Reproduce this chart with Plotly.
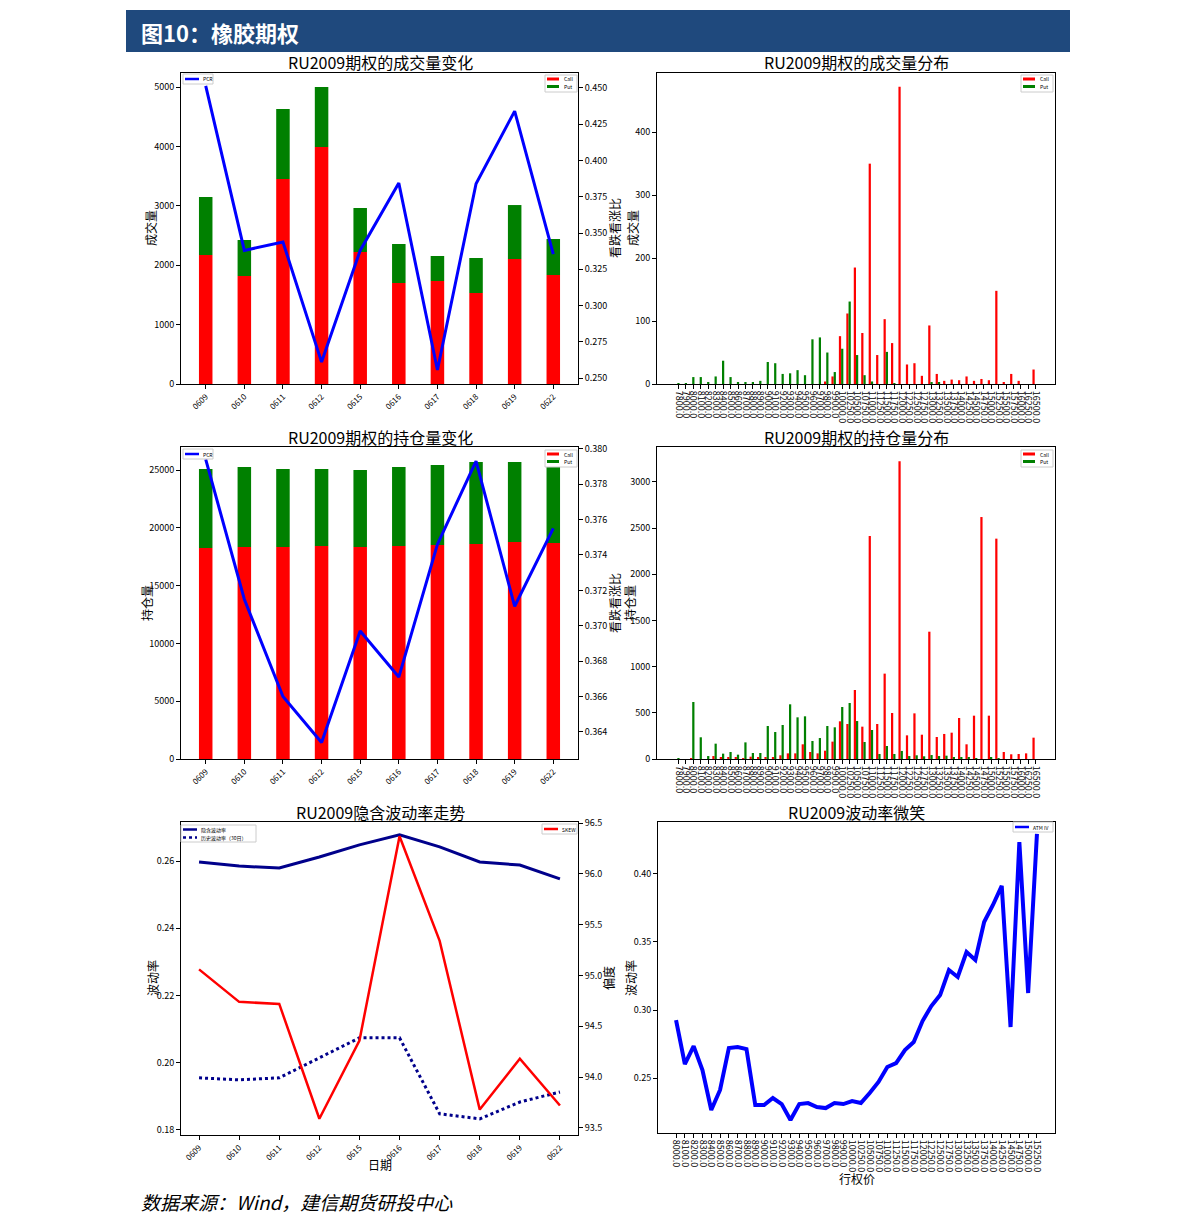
import plotly.graph_objects as go

W, H = 1191, 1232
FONT = "Noto Sans CJK SC, Noto Sans, sans-serif"

# ---------------- data ----------------
dates = ["0609", "0610", "0611", "0612", "0615", "0616", "0617", "0618", "0619", "0622"]

vol_call = [2172, 1818, 3451, 3990, 2222, 1700, 1734, 1532, 2104, 1835]
vol_put = [976, 606, 1179, 1010, 741, 657, 421, 589, 909, 606]
vol_pcr = [0.4514, 0.338, 0.3438, 0.261, 0.338, 0.3845, 0.2555, 0.384, 0.434, 0.3355]

oi_call = [18253, 18339, 18339, 18425, 18339, 18425, 18512, 18600, 18772, 18685]
oi_put = [6834, 6921, 6748, 6662, 6661, 6835, 6921, 7092, 6920, 6748]
oi_pcr = [0.3794, 0.3715, 0.366, 0.3634, 0.3697, 0.3671, 0.3746, 0.3793, 0.3711, 0.3755]

strikes = ([f"{s}.0" for s in range(7800, 10000, 100)] +
           [f"{s}.0" for s in range(10000, 16750, 250)])

dist_vol_call = [0, 0, 0, 0, 0, 0, 0, 0, 0, 0, 0, 0, 0, 0, 0, 0, 0, 0, 0, 0,
                 4, 12, 76, 112, 185, 81, 350, 46, 103, 65, 472, 31, 33, 13, 93, 16,
                 5, 7, 6, 12, 5, 8, 6, 148, 2, 16, 5, 0, 23]
dist_vol_put = [1, 1, 11, 11, 2, 12, 37, 11, 2, 2, 2, 5, 35, 33, 16, 17, 22, 14, 71, 74,
                50, 19, 56, 131, 46, 14, 4, 0, 51, 1, 0, 0, 0, 0, 2, 3,
                0, 0, 0, 0, 0, 0, 0, 0, 0, 0, 0, 0, 0]

dist_oi_call = [0, 0, 7, 0, 0, 32, 14, 14, 18, 7, 25, 14, 22, 18, 40, 61, 61, 159, 76, 61,
                90, 188, 408, 379, 747, 350, 2414, 379, 924, 498, 3222, 256, 494, 263, 1378, 238,
                271, 285, 444, 159, 469, 2619, 469, 2385, 76, 51, 54, 61, 231]
dist_oi_put = [10, 0, 617, 235, 32, 166, 58, 76, 47, 180, 65, 65, 357, 292, 368, 592, 451, 462, 195, 227,
               357, 343, 563, 606, 411, 184, 314, 54, 141, 54, 87, 32, 40, 29, 43, 32,
               36, 18, 18, 22, 7, 0, 11, 7, 0, 0, 0, 0, 0]

iv = [0.2597, 0.2585, 0.2579, 0.2612, 0.2648, 0.2678, 0.2642, 0.2597, 0.2588, 0.2547]
hv30 = [0.1955, 0.1949, 0.1955, 0.2014, 0.2074, 0.2074, 0.1848, 0.1833, 0.1883, 0.1913]
skew = [95.06, 94.74, 94.72, 93.59, 94.36, 96.37, 95.34, 93.68, 94.18, 93.72]

smile_strikes = ([f"{s}.0" for s in range(8000, 10000, 100)] +
                 [f"{s}.0" for s in range(10000, 15500, 250)])
smile_iv = [0.2926, 0.2603, 0.2735, 0.2559, 0.2265, 0.2412, 0.2721, 0.2728, 0.2713, 0.2301,
            0.2301, 0.2353, 0.2309, 0.2191, 0.2309, 0.2316, 0.2287, 0.2279, 0.2316, 0.2309,
            0.2331, 0.2316, 0.2390, 0.2471, 0.2581, 0.2610, 0.2706, 0.2765, 0.2919, 0.3029,
            0.3110, 0.3294, 0.3243, 0.3426, 0.3368, 0.3647, 0.3772, 0.3912, 0.2875, 0.4235,
            0.3125, 0.4294]

RED, GREEN, BLUE, NAVY = "#ff0000", "#008000", "#0000ff", "#00008b"

OX, OY = 8, 8  # page body margin


def px_x(p):
    return (p - OX) / W


def px_y(p):
    return 1 - (p - OY) / H


fig = go.Figure()

# ---------- top-left: volume change ----------
fig.add_trace(go.Bar(x=dates, y=vol_call, name="Call", marker_color=RED, width=0.35,
                     xaxis="x", yaxis="y", marker_line_width=0))
fig.add_trace(go.Bar(x=dates, y=vol_put, base=vol_call, name="Put", marker_color=GREEN, width=0.35,
                     xaxis="x", yaxis="y", marker_line_width=0))
fig.add_trace(go.Scatter(x=dates, y=vol_pcr, name="PCR", mode="lines", line=dict(color=BLUE, width=3),
                         xaxis="x", yaxis="y2"))

# ---------- top-right: volume distribution ----------
fig.add_trace(go.Bar(x=strikes, y=dist_vol_call, name="Call", marker_color=RED, width=0.3, offset=-0.45,
                     xaxis="x2", yaxis="y3", marker_line_width=0))
fig.add_trace(go.Bar(x=strikes, y=dist_vol_put, name="Put", marker_color=GREEN, width=0.3, offset=-0.15,
                     xaxis="x2", yaxis="y3", marker_line_width=0))

# ---------- mid-left: OI change ----------
fig.add_trace(go.Bar(x=dates, y=oi_call, name="Call", marker_color=RED, width=0.35,
                     xaxis="x3", yaxis="y4", marker_line_width=0))
fig.add_trace(go.Bar(x=dates, y=oi_put, base=oi_call, name="Put", marker_color=GREEN, width=0.35,
                     xaxis="x3", yaxis="y4", marker_line_width=0))
fig.add_trace(go.Scatter(x=dates, y=oi_pcr, name="PCR", mode="lines", line=dict(color=BLUE, width=3),
                         xaxis="x3", yaxis="y5"))

# ---------- mid-right: OI distribution ----------
fig.add_trace(go.Bar(x=strikes, y=dist_oi_call, name="Call", marker_color=RED, width=0.3, offset=-0.45,
                     xaxis="x4", yaxis="y6", marker_line_width=0))
fig.add_trace(go.Bar(x=strikes, y=dist_oi_put, name="Put", marker_color=GREEN, width=0.3, offset=-0.15,
                     xaxis="x4", yaxis="y6", marker_line_width=0))

# ---------- bottom-left: implied vol ----------
fig.add_trace(go.Scatter(x=dates, y=iv, name="隐含波动率", mode="lines", line=dict(color=NAVY, width=3),
                         xaxis="x5", yaxis="y7"))
fig.add_trace(go.Scatter(x=dates, y=hv30, name="历史波动率（30日）", mode="lines",
                         line=dict(color=NAVY, width=3, dash="dot"),
                         xaxis="x5", yaxis="y7"))
fig.add_trace(go.Scatter(x=dates, y=skew, name="SKEW", mode="lines", line=dict(color=RED, width=2.5),
                         xaxis="x5", yaxis="y8"))

# ---------- bottom-right: smile ----------
fig.add_trace(go.Scatter(x=smile_strikes, y=smile_iv, name="ATM IV", mode="lines",
                         line=dict(color=BLUE, width=4),
                         xaxis="x6", yaxis="y9"))

tickfont = dict(family=FONT, size=9, color="black")
datefont = dict(family=FONT, size=8, color="black")
axis_common = dict(showline=True, linecolor="black", linewidth=1, ticks="outside", ticklen=4,
                   tickcolor="black", showgrid=False, zeroline=False, tickfont=tickfont)

L = [px_x(181), px_x(578)]
R = [px_x(657), px_x(1055)]
RT = [px_y(384), px_y(73)]
RM = [px_y(759), px_y(447)]
RB = [px_y(1135), px_y(822)]
RB2 = [px_y(1133), px_y(822)]

layout = dict(
    width=W, height=H, margin=dict(l=0, r=0, t=0, b=0, autoexpand=False),
    paper_bgcolor="white", plot_bgcolor="white", showlegend=False,
    barmode="overlay", font=dict(family=FONT, color="black"),
    # top-left
    xaxis=dict(axis_common, domain=L, anchor="y", type="category", range=[-0.64, 9.64],
               tickangle=-45, mirror=True, tickfont=datefont),
    yaxis=dict(axis_common, domain=RT, anchor="x", range=[0, 5236], tickvals=[0, 1000, 2000, 3000, 4000, 5000],
               tickformat="d"),
    yaxis2=dict(axis_common, overlaying="y", anchor="x", side="right", range=[0.2459, 0.4603],
                tickvals=[0.25, 0.275, 0.3, 0.325, 0.35, 0.375, 0.4, 0.425, 0.45], tickformat=".3f"),
    # top-right
    xaxis2=dict(axis_common, domain=R, anchor="y3", type="category", range=[-2.88, 50.58],
                tickangle=90, mirror=True, tickmode="array", tickvals=strikes, ticktext=strikes),
    yaxis3=dict(axis_common, domain=RT, anchor="x2", range=[0, 494], tickvals=[0, 100, 200, 300, 400],
                mirror=True),
    # mid-left
    xaxis3=dict(axis_common, domain=L, anchor="y4", type="category", range=[-0.64, 9.64],
                tickangle=-45, mirror=True, tickfont=datefont),
    yaxis4=dict(axis_common, domain=RM, anchor="x3", range=[0, 26990],
                tickvals=[0, 5000, 10000, 15000, 20000, 25000], tickformat="d"),
    yaxis5=dict(axis_common, overlaying="y4", anchor="x3", side="right", range=[0.36247, 0.3801],
                tickvals=[0.364, 0.366, 0.368, 0.370, 0.372, 0.374, 0.376, 0.378, 0.380], tickformat=".3f"),
    # mid-right
    xaxis4=dict(axis_common, domain=R, anchor="y6", type="category", range=[-2.88, 50.58],
                tickangle=90, mirror=True, tickmode="array", tickvals=strikes, ticktext=strikes),
    yaxis6=dict(axis_common, domain=RM, anchor="x4", range=[0, 3377],
                tickvals=[0, 500, 1000, 1500, 2000, 2500, 3000], mirror=True, tickformat="d"),
    # bottom-left
    xaxis5=dict(axis_common, domain=L, anchor="y7", type="category", range=[-0.45, 9.45],
                tickangle=-45, mirror=True, tickfont=datefont),
    yaxis7=dict(axis_common, domain=RB, anchor="x5", range=[0.1785, 0.2716],
                tickvals=[0.18, 0.20, 0.22, 0.24, 0.26], tickformat=".2f"),
    yaxis8=dict(axis_common, overlaying="y7", anchor="x5", side="right", range=[93.43, 96.51],
                tickvals=[93.5, 94.0, 94.5, 95.0, 95.5, 96.0, 96.5], tickformat=".1f"),
    # bottom-right
    xaxis6=dict(axis_common, domain=[px_x(658), px_x(1055)], anchor="y9", type="category",
                range=[-2.05, 43.05], tickangle=90, mirror=True, tickmode="array",
                tickvals=smile_strikes, ticktext=smile_strikes),
    yaxis9=dict(axis_common, domain=RB2, anchor="x6", range=[0.2096, 0.4382],
                tickvals=[0.25, 0.30, 0.35, 0.40], tickformat=".2f", mirror=True),
)
fig.update_layout(**layout)

shapes = []
annotations = []


def ann(text, x, y, size=12, angle=0, xanchor="center", color="black", bold=False):
    annotations.append(dict(text=f"<b>{text}</b>" if bold else text, x=px_x(x), y=px_y(y),
                            xref="paper", yref="paper", showarrow=False, textangle=angle,
                            xanchor=xanchor, yanchor="middle",
                            font=dict(family=FONT, size=size, color=color)))


def rect(x0, y0, x1, y1, fill, line_color=None, layer="above"):
    shapes.append(dict(type="rect", xref="paper", yref="paper", x0=px_x(x0), x1=px_x(x1),
                       y0=px_y(y1), y1=px_y(y0), fillcolor=fill, layer=layer,
                       line=dict(color=line_color or fill, width=1 if line_color else 0)))


def hline(x0, x1, y, color, width, dash="solid"):
    shapes.append(dict(type="line", xref="paper", yref="paper", x0=px_x(x0), x1=px_x(x1),
                       y0=px_y(y), y1=px_y(y), line=dict(color=color, width=width, dash=dash)))


# header bar
rect(126, 10, 1070, 52, "#1f497d", layer="below")
ann("图10：橡胶期权", 139, 32, size=22, xanchor="left", color="white", bold=True)

# subplot titles
ann("RU2009期权的成交量变化", 380, 62, size=16)
ann("RU2009期权的成交量分布", 856, 62, size=16)
ann("RU2009期权的持仓量变化", 380, 437, size=16)
ann("RU2009期权的持仓量分布", 856, 437, size=16)
ann("RU2009隐含波动率走势", 380, 812, size=16)
ann("RU2009波动率微笑", 856, 812, size=16)

# axis titles
ann("成交量", 150, 228, angle=-90)
ann("看跌看涨比", 614, 228, angle=-90)
ann("成交量", 632, 228, angle=-90)
ann("持仓量", 146, 603, angle=-90)
ann("看跌看涨比", 614, 603, angle=-90)
ann("持仓量", 629, 603, angle=-90)
ann("波动率", 152, 978, angle=-90)
ann("偏度", 608, 978, angle=-90)
ann("波动率", 630, 978, angle=-90)
ann("日期", 380, 1164)
ann("行权价", 857, 1178)

# legends (compact, matplotlib-like)
LEGF = 5


def legend_lines(x0, y0, x1, y1, entries):
    rect(x0, y0, x1, y1, "white", "#cccccc")
    for (color, dash, text, y) in entries:
        hline(x0 + 2, x0 + 16, y, color, 2.5, dash)
        ann(text, x0 + 18, y, size=LEGF, xanchor="left")


def legend_callput(x1, y0):
    x0 = x1 - 32
    rect(x0, y0, x1, y0 + 17, "white", "#cccccc")
    rect(x0 + 2, y0 + 2.5, x0 + 14, y0 + 5.5, RED)
    ann("Call", x0 + 17, y0 + 4, size=LEGF, xanchor="left")
    rect(x0 + 2, y0 + 10, x0 + 14, y0 + 13, GREEN)
    ann("Put", x0 + 17, y0 + 11.5, size=LEGF, xanchor="left")


legend_lines(183, 74, 213, 84, [(BLUE, "solid", "PCR", 79)])
legend_callput(577, 75)
legend_callput(1053, 75)
legend_lines(183, 449, 213, 459, [(BLUE, "solid", "PCR", 454)])
legend_callput(577, 450)
legend_callput(1053, 450)
legend_lines(181, 825, 256, 842, [(NAVY, "solid", "隐含波动率", 829.5), (NAVY, "dot", "历史波动率（30日）", 837.5)])
legend_lines(542, 824, 577, 834, [(RED, "solid", "SKEW", 829)])
legend_lines(1013, 822, 1053, 832, [(BLUE, "solid", "ATM IV", 827)])

ann("<i>数据来源：Wind，建信期货研投中心</i>", 139, 1201, size=19, xanchor="left")

fig.update_layout(shapes=shapes, annotations=annotations)

fig.write_html("out.html")
